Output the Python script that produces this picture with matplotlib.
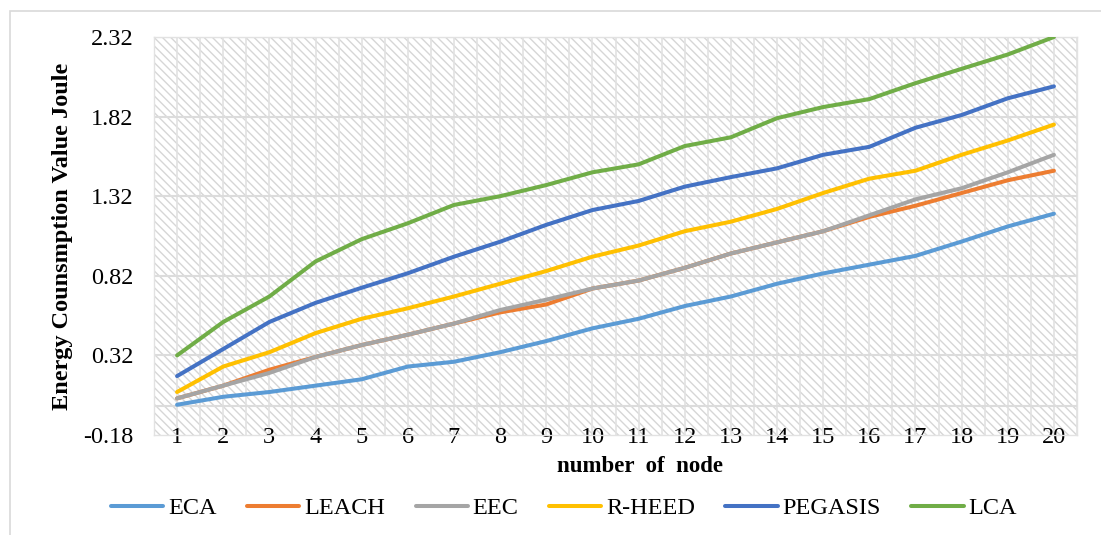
import numpy as np
import matplotlib
matplotlib.use("Agg")
import matplotlib.pyplot as plt
from matplotlib.patches import Rectangle

plt.rcParams['font.family'] = ['Liberation Serif', 'DejaVu Serif']
plt.rcParams['hatch.linewidth'] = 1.0

# number of nodes on the x axis
nodes = list(range(1, 21))

# energy consumption (joule) per algorithm
eca = [0.01, 0.06, 0.09, 0.13, 0.17, 0.25, 0.28, 0.34, 0.41, 0.49,
       0.55, 0.63, 0.69, 0.77, 0.835, 0.89, 0.945, 1.035, 1.13, 1.21]
leach = [0.05, 0.13, 0.23, 0.31, 0.385, 0.45, 0.52, 0.59, 0.64, 0.74,
         0.79, 0.87, 0.96, 1.03, 1.10, 1.19, 1.26, 1.34, 1.42, 1.48]
eec = [0.05, 0.13, 0.21, 0.31, 0.385, 0.45, 0.52, 0.605, 0.67, 0.74,
       0.79, 0.87, 0.96, 1.03, 1.10, 1.20, 1.30, 1.37, 1.47, 1.58]
rheed = [0.09, 0.25, 0.34, 0.46, 0.55, 0.616, 0.69, 0.77, 0.85, 0.94,
         1.01, 1.10, 1.16, 1.24, 1.34, 1.43, 1.48, 1.58, 1.67, 1.77]
pegasis = [0.19, 0.36, 0.53, 0.65, 0.745, 0.836, 0.94, 1.034, 1.14, 1.233,
           1.29, 1.38, 1.44, 1.495, 1.58, 1.63, 1.75, 1.83, 1.935, 2.01]
lca = [0.32, 0.53, 0.69, 0.91, 1.05, 1.15, 1.265, 1.32, 1.39, 1.47,
       1.52, 1.635, 1.69, 1.81, 1.88, 1.93, 2.03, 2.12, 2.21, 2.32]

series = [("ECA", eca, "#5B9BD5"),
          ("LEACH", leach, "#ED7D31"),
          ("EEC", eec, "#A5A5A5"),
          ("R-HEED", rheed, "#FFC000"),
          ("PEGASIS", pegasis, "#4472C4"),
          ("LCA", lca, "#70AD47")]

y_ticks = [-0.18, 0.32, 0.82, 1.32, 1.82, 2.32]

W, H = 1101, 535
fig = plt.figure(figsize=(W / 100, H / 100), dpi=100)

# outer chart border
fig.patches.append(Rectangle((10 / W, -0.1), 1.2, 1 - 11 / H + 0.1,
                             transform=fig.transFigure, fill=False,
                             edgecolor="#d9d9d9", lw=1.2))

ax = fig.add_axes([154 / W, 1 - 435 / H, (1077 - 154) / W, (435 - 37) / H])

# hatched plot area background
ax.add_patch(Rectangle((0, 0), 1, 1, transform=ax.transAxes,
                       facecolor="white", edgecolor="#d6d6d6",
                       hatch="\\\\\\\\", lw=0, zorder=0))

ax.set_xlim(0.5, 20.5)
ax.set_ylim(-0.18, 2.32)

# gridlines at every half category and at each major y value
for gx in np.arange(0.5, 20.51, 0.5):
    ax.axvline(gx, color="#e2e2e2", lw=1.2, zorder=1)
for gy in y_ticks[1:] + [0.0]:
    ax.axhline(gy, color="#dcdcdc", lw=1.5, zorder=1)

for name, vals, col in series:
    ax.plot(nodes, vals, color=col, lw=2.9, label=name, zorder=3,
            solid_joinstyle="round", solid_capstyle="round")

for sp in ax.spines.values():
    sp.set_color("#e2e2e2")
    sp.set_linewidth(1.0)

ax.set_yticks(y_ticks)
ax.set_yticklabels(["%.2f" % v for v in y_ticks])
ax.set_xticks(nodes)
ax.set_xticklabels([str(n) for n in nodes])
ax.tick_params(axis="both", length=0, labelsize=17.5)
ax.tick_params(axis="y", pad=15)
ax.tick_params(axis="x", pad=2)
for lab in ax.get_xticklabels():
    lab.set_va("center")

fig.text(63 / W, 1 - 236 / H, "Energy Counsmption Value Joule",
         rotation=90, ha="center", va="center", fontsize=17.5, fontweight="bold")
fig.text(640 / W, 1 - 467 / H, "number  of  node",
         ha="center", va="center", fontsize=16.5, fontweight="bold")

handles, labels = ax.get_legend_handles_labels()
fig.legend(handles, labels, loc="center", bbox_to_anchor=(564 / W, 1 - 508 / H),
           ncol=6, frameon=False, fontsize=17.5, handlelength=2.15,
           handletextpad=0.2, columnspacing=1.25)

fig.savefig("out.png", dpi=100)
